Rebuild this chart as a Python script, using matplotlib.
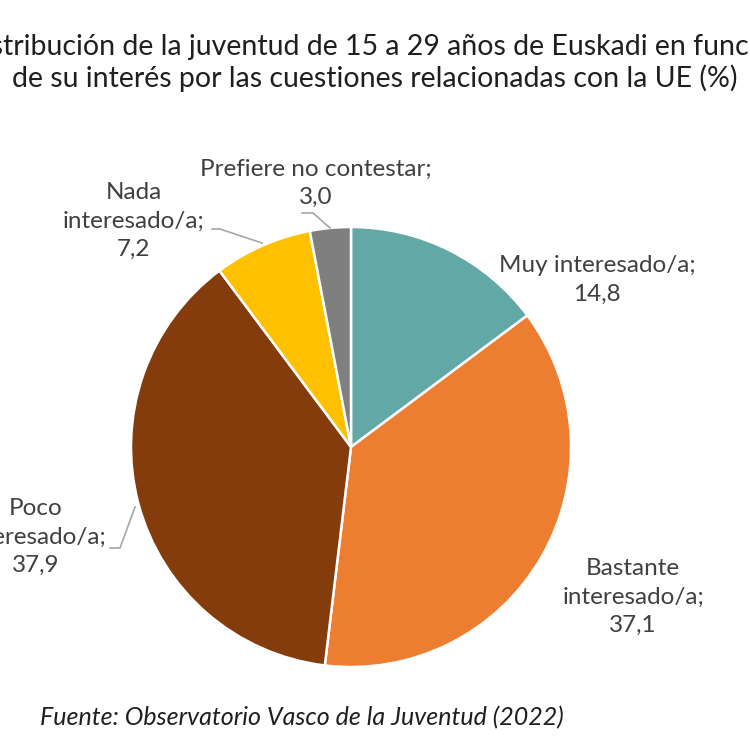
import matplotlib
matplotlib.use("Agg")
import matplotlib.pyplot as plt

# datos
categorias = ["Muy interesado/a", "Bastante interesado/a", "Poco interesado/a",
              "Nada interesado/a", "Prefiere no contestar"]
valores = [14.8, 37.1, 37.9, 7.2, 3.0]
colores = ["#62A8A6", "#ED7D31", "#843C0C", "#FFC000", "#7F7F7F"]

titulo = ("Distribución de la juventud de 15 a 29 años de Euskadi en función\n"
          "de su interés por las cuestiones relacionadas con la UE (%)")
fuente = "Fuente: Observatorio Vasco de la Juventud (2022)"

W, H = 750, 750
plt.rcParams["font.family"] = ["Lato", "DejaVu Sans"]

fig = plt.figure(figsize=(7.5, 7.5), dpi=100)
ax = fig.add_axes([0, 0, 1, 1])

cx, cy, r = 351, H - 447, 220
ax.pie(valores, colors=colores, startangle=90, counterclock=False,
       center=(cx, cy), radius=r, frame=True,
       wedgeprops=dict(edgecolor="white", linewidth=1.8))
ax.set_xlim(0, W)
ax.set_ylim(0, H)
ax.set_aspect("equal")
ax.axis("off")

def fmt(v):
    return f"{v:.1f}".replace(".", ",")

gris = "#404040"
fs = 17.5
# posiciones de etiquetas (px, y desde arriba)
etiquetas = [
    ("Muy interesado/a;\n" + fmt(valores[0]), 597, 280),
    ("Bastante\ninteresado/a;\n" + fmt(valores[1]), 633, 597),
    ("Poco\ninteresado/a;\n" + fmt(valores[2]), 36, 537),
    ("Nada\ninteresado/a;\n" + fmt(valores[3]), 134, 221),
    ("Prefiere no contestar;\n" + fmt(valores[4]), 316, 183),
]
for txt, x, y in etiquetas:
    ax.text(x, H - y, txt, ha="center", va="center", fontsize=fs, color=gris,
            linespacing=1.42)

# líneas guía
lc = "#A6A6A6"
ax.plot([302, 313, 330], [H - 213, H - 213, H - 228], color=lc, lw=1.2)
ax.plot([212, 220, 262], [H - 229, H - 229, H - 243], color=lc, lw=1.2)
ax.plot([110, 120, 135], [H - 548, H - 548, H - 507], color=lc, lw=1.2)

fig.text(375 / W, 1 - 63 / H, titulo, ha="center", va="center", fontsize=20.5,
         color="#1F1F1F", linespacing=1.2)
fig.text(40 / W, 1 - 718 / H, fuente, ha="left", va="center", fontsize=18,
         color="#1F1F1F", style="italic")

fig.savefig("out.png", dpi=100, facecolor="white")
